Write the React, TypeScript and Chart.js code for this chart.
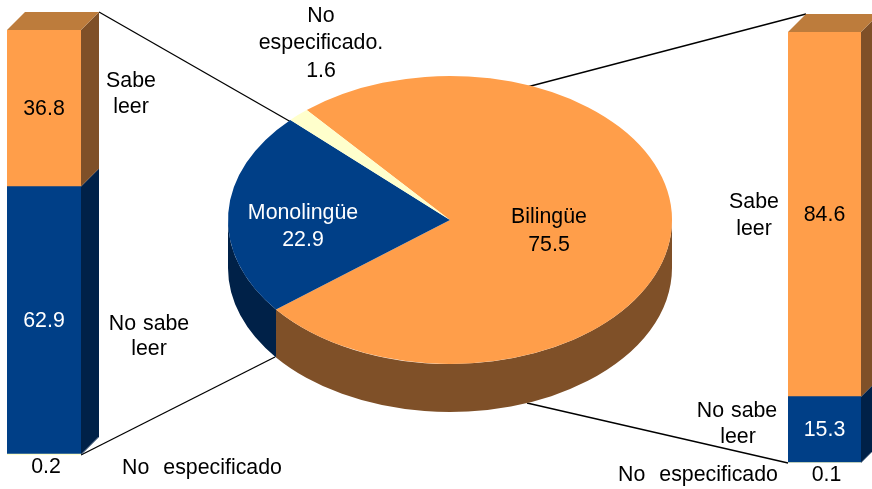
import React, { useEffect, useRef } from "react";
import { Chart, registerables } from "chart.js";

Chart.register(...registerables);

const pieCategories = ["Bilingüe", "Monolingüe", "No especificado."];
const pieValues = [75.5, 22.9, 1.6];
const barCategories = ["No especificado", "No sabe leer", "Sabe leer"];
const leftBarValues = [0.2, 62.9, 36.8];
const rightBarValues = [0.1, 15.3, 84.6];

const ORANGE = "#FF9E4A";
const NAVY = "#003F87";
const CREAM = "#FFFFCC";
const ORANGE_SIDE = "#7F5028";
const NAVY_SIDE = "#002148";
const ORANGE_TOP = "#BD7C3C";
const FONT = '21.33px "Liberation Sans", Arial, sans-serif';

const CX = 450, CY = 220, RX = 222, RY = 144, PIE_DEPTH = 48, BAR_DEPTH = 18;

type T = { t: string; x: number; y: number; c?: string; ws?: string };

const pieTexts: T[] = [
  { t: "No", x: 321, y: 16 },
  { t: "especificado.", x: 321, y: 43 },
  { t: String(pieValues[2]), x: 321, y: 71 },
  { t: "Sabe", x: 131, y: 81 },
  { t: "leer", x: 131, y: 107 },
  { t: "No sabe", x: 149, y: 324, ws: "1px" },
  { t: "leer", x: 149, y: 349 },
  { t: "No especificado", x: 202, y: 468, ws: "8px" },
  { t: "Monolingüe", x: 303, y: 213, c: "#fff" },
  { t: String(pieValues[1]), x: 303, y: 240, c: "#fff" },
  { t: "Bilingüe", x: 549, y: 217 },
  { t: String(pieValues[0]), x: 549, y: 245 },
  { t: "Sabe", x: 754, y: 202 },
  { t: "leer", x: 754, y: 229 },
  { t: "No sabe", x: 737, y: 411, ws: "1px" },
  { t: "leer", x: 738, y: 437 },
  { t: "No especificado", x: 698, y: 475, ws: "8px" },
];

const connectors = [
  [99, 12, 291, 122],
  [81, 455, 275, 357],
  [806, 14, 527, 87],
  [788, 463, 527, 403],
];

function drawTexts(ctx: CanvasRenderingContext2D, items: T[]) {
  ctx.save();
  ctx.font = FONT;
  ctx.textAlign = "center";
  ctx.textBaseline = "middle";
  for (const i of items) {
    ctx.fillStyle = i.c ?? "#000";
    (ctx as any).wordSpacing = i.ws ?? "0px";
    ctx.fillText(i.t, i.x, i.y);
  }
  ctx.restore();
}

const piePlugin = {
  id: "pie3d",
  beforeDatasetsDraw(chart: any) {
    const ctx: CanvasRenderingContext2D = chart.ctx;
    ctx.save();
    ctx.strokeStyle = "#000";
    ctx.lineWidth = 1.3;
    for (const [a, b, c, d] of connectors) {
      ctx.beginPath();
      ctx.moveTo(a, b);
      ctx.lineTo(c, d);
      ctx.stroke();
    }
    ctx.restore();
    const arcs = chart.getDatasetMeta(0).data;
    const { x, y, outerRadius } = arcs[0];
    ctx.save();
    ctx.translate(x, y);
    ctx.scale(RX / RY, 1);
    ctx.translate(-x, -y);
    const sideColors = [ORANGE_SIDE, NAVY_SIDE, "#808066"];
    arcs.forEach((arc: any, i: number) => {
      for (let k = -1; k <= 1; k++) {
        const off = k * 2 * Math.PI;
        const s = Math.max(arc.startAngle + off, 0);
        const e = Math.min(arc.endAngle + off, Math.PI);
        if (e <= s) continue;
        ctx.beginPath();
        ctx.arc(x, y, outerRadius, s, e);
        ctx.arc(x, y + PIE_DEPTH, outerRadius, e, s, true);
        ctx.closePath();
        ctx.fillStyle = sideColors[i];
        ctx.fill();
      }
    });
  },
  afterDatasetsDraw(chart: any) {
    chart.ctx.restore();
    drawTexts(chart.ctx, pieTexts);
  },
};

const barPlugin = {
  id: "bar3d",
  beforeDatasetsDraw(chart: any) {
    const ctx: CanvasRenderingContext2D = chart.ctx;
    const sides = [NAVY_SIDE, NAVY_SIDE, ORANGE_SIDE];
    const d = BAR_DEPTH;
    chart.data.datasets.forEach((_: any, i: number) => {
      const el = chart.getDatasetMeta(i).data[0];
      const r = el.x + el.width / 2;
      const l = el.x - el.width / 2;
      ctx.fillStyle = sides[i];
      ctx.beginPath();
      ctx.moveTo(r, el.base);
      ctx.lineTo(r + d, el.base - d);
      ctx.lineTo(r + d, el.y - d);
      ctx.lineTo(r, el.y);
      ctx.closePath();
      ctx.fill();
      if (i === chart.data.datasets.length - 1) {
        ctx.fillStyle = ORANGE_TOP;
        ctx.beginPath();
        ctx.moveTo(l, el.y);
        ctx.lineTo(l + d, el.y - d);
        ctx.lineTo(r + d, el.y - d);
        ctx.lineTo(r, el.y);
        ctx.closePath();
        ctx.fill();
      }
    });
  },
  afterDatasetsDraw(chart: any) {
    const items: T[] = [];
    const colors = ["#000", "#fff", "#000"];
    chart.data.datasets.forEach((ds: any, i: number) => {
      const el = chart.getDatasetMeta(i).data[0];
      const small = i === 0;
      items.push({
        t: String(ds.data[0]),
        x: el.x + (small ? 2 : 0),
        y: small ? el.base + 12 : (el.y + el.base) / 2 + 1,
        c: colors[i],
      });
    });
    drawTexts(chart.ctx, items);
  },
};

function makeBar(canvas: HTMLCanvasElement, values: number[], padding: any) {
  const colors = [CREAM, NAVY, ORANGE];
  return new Chart(canvas, {
    type: "bar",
    data: {
      labels: ["total"],
      datasets: barCategories.map((label, i) => ({
        label,
        data: [values[i]],
        backgroundColor: colors[i],
        borderWidth: 0,
        barPercentage: 1,
        categoryPercentage: 1,
      })),
    },
    options: {
      animation: false,
      responsive: false,
      events: [],
      layout: { padding },
      plugins: { legend: { display: false }, tooltip: { enabled: false } },
      scales: {
        x: { stacked: true, display: false },
        y: {
          stacked: true,
          display: false,
          min: 0,
          max: values.reduce((a, b) => a + b, 0),
        },
      },
    },
    plugins: [barPlugin],
  } as any);
}

export default function App() {
  const pieRef = useRef<HTMLCanvasElement>(null);
  const leftRef = useRef<HTMLCanvasElement>(null);
  const rightRef = useRef<HTMLCanvasElement>(null);

  useEffect(() => {
    const pie = new Chart(pieRef.current!, {
      type: "pie",
      data: {
        labels: pieCategories,
        datasets: [
          {
            data: pieValues,
            backgroundColor: [ORANGE, NAVY, CREAM],
            borderWidth: 0,
          },
        ],
      },
      options: {
        animation: false,
        responsive: false,
        events: [],
        rotation: -40.2,
        layout: {
          padding: {
            left: CX - RY,
            right: 872 - CX - RY,
            top: CY - RY,
            bottom: 489 - CY - RY,
          },
        },
        plugins: { legend: { display: false }, tooltip: { enabled: false } },
      },
      plugins: [piePlugin],
    } as any);
    const left = makeBar(leftRef.current!, leftBarValues, {
      left: 7, right: 29, top: 30, bottom: 34,
    });
    const right = makeBar(rightRef.current!, rightBarValues, {
      left: 18, right: 11, top: 32, bottom: 26,
    });
    return () => {
      pie.destroy();
      left.destroy();
      right.destroy();
    };
  }, []);

  const abs = (left: number): React.CSSProperties => ({
    position: "absolute",
    left,
    top: 0,
  });

  return (
    <div style={{ position: "fixed", left: 0, top: 0, width: 872, height: 489, overflow: "hidden", background: "#fff" }}>
      <canvas ref={pieRef} width={872} height={489} style={abs(0)} />
      <canvas ref={leftRef} width={110} height={489} style={abs(0)} />
      <canvas ref={rightRef} width={102} height={489} style={abs(770)} />
    </div>
  );
}
